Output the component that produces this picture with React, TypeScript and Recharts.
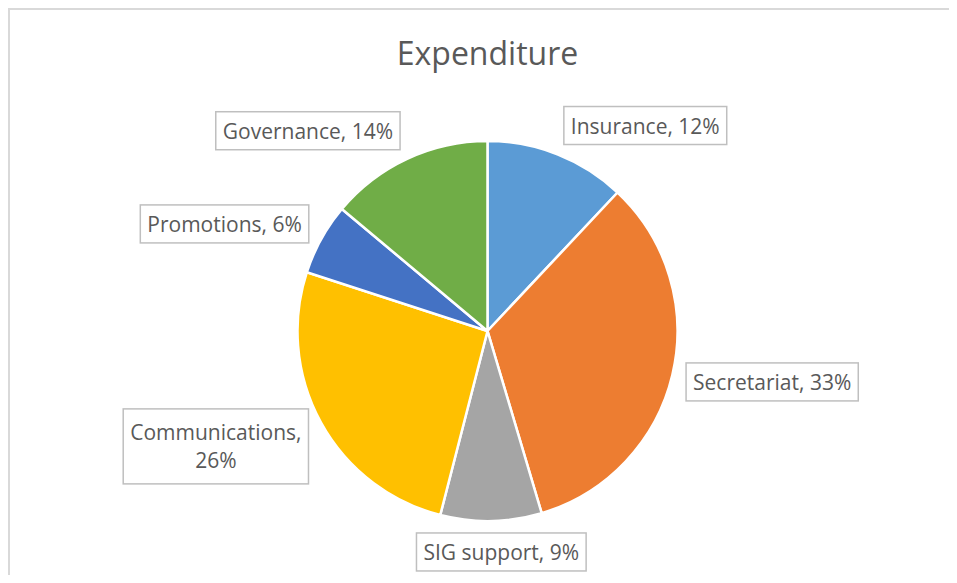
import React from "react";
import { PieChart, Pie, Cell } from "recharts";

const categories = ["Insurance", "Secretariat", "SIG support", "Communications", "Promotions", "Governance"];
const values = [12, 33.4, 8.6, 26, 6.1, 13.9];
const colors = ["#5B9BD5", "#ED7D31", "#A5A5A5", "#FFC000", "#4472C4", "#70AD47"];

const data = categories.map((name, i) => ({ name, value: values[i] }));

const FONT_SIZE = 21;
const FONT = `${FONT_SIZE}px "Open Sans"`;
const MAX_TEXT_W = 195;
const PAD_X = 7;
const LINE_H = 28;

let ctx: CanvasRenderingContext2D | null = null;
function measure(t: string): number {
  if (!ctx && typeof document !== "undefined") {
    ctx = document.createElement("canvas").getContext("2d");
  }
  if (ctx) {
    ctx.font = FONT;
    return ctx.measureText(t).width;
  }
  return t.length * FONT_SIZE * 0.55;
}

const RAD = Math.PI / 180;
const clamp = (v: number) => Math.max(-1, Math.min(1, v));

const renderLabel = (props: any) => {
  const { cx, cy, midAngle, outerRadius, name, percent } = props;
  const pct = `${Math.round(percent * 100)}%`;
  const full = `${name}, ${pct}`;
  let lines = [full];
  if (measure(full) > MAX_TEXT_W) {
    lines = [`${name},`, pct];
  }
  const tw = Math.max(...lines.map(measure));
  const w = tw + PAD_X * 2;
  const h = lines.length === 1 ? 38 : 75;
  const ux = Math.cos(-midAngle * RAD);
  const uy = Math.sin(-midAngle * RAD);
  const R = outerRadius + 12;
  const px = cx + R * ux;
  const py = cy + R * uy;
  const bx = px + (w / 2) * clamp(5 * ux) + 2 * Math.sign(ux);
  const by = py + (h / 2) * uy;
  const firstY = by - ((lines.length - 1) * LINE_H) / 2;
  return (
    <g>
      <rect x={bx - w / 2} y={by - h / 2} width={w} height={h} fill="#ffffff" stroke="#BFBFBF" strokeWidth={1.5} />
      {lines.map((l, i) => (
        <text
          key={i}
          x={bx}
          y={firstY + i * LINE_H}
          textAnchor="middle"
          dominantBaseline="central"
          fontFamily='"Open Sans"'
          fontSize={FONT_SIZE}
          fill="#595959"
        >
          {l}
        </text>
      ))}
    </g>
  );
};

export default function App() {
  return (
    <div
      style={{
        position: "relative",
        width: 947,
        height: 565,
        borderTop: "2px solid #D9D9D9",
        borderLeft: "2px solid #D9D9D9",
        overflow: "hidden",
        background: "#fff",
      }}
    >
      <div
        style={{
          position: "absolute",
          left: 0,
          top: 23,
          width: 955,
          textAlign: "center",
          fontFamily: '"Open Sans"',
          fontSize: 32,
          color: "#595959",
          lineHeight: "40px",
        }}
      >
        Expenditure
      </div>
      <PieChart
        width={947}
        height={565}
        margin={{ top: 0, right: 0, bottom: 0, left: 0 }}
        style={{ position: "absolute", left: 0, top: 0 }}
      >
        <Pie
          data={data}
          dataKey="value"
          nameKey="name"
          cx={477.5}
          cy={321}
          outerRadius={190}
          startAngle={90}
          endAngle={-270}
          stroke="#ffffff"
          strokeWidth={2.5}
          label={renderLabel}
          labelLine={false}
          isAnimationActive={false}
        >
          {data.map((d, i) => (
            <Cell key={d.name} fill={colors[i]} />
          ))}
        </Pie>
      </PieChart>
    </div>
  );
}
